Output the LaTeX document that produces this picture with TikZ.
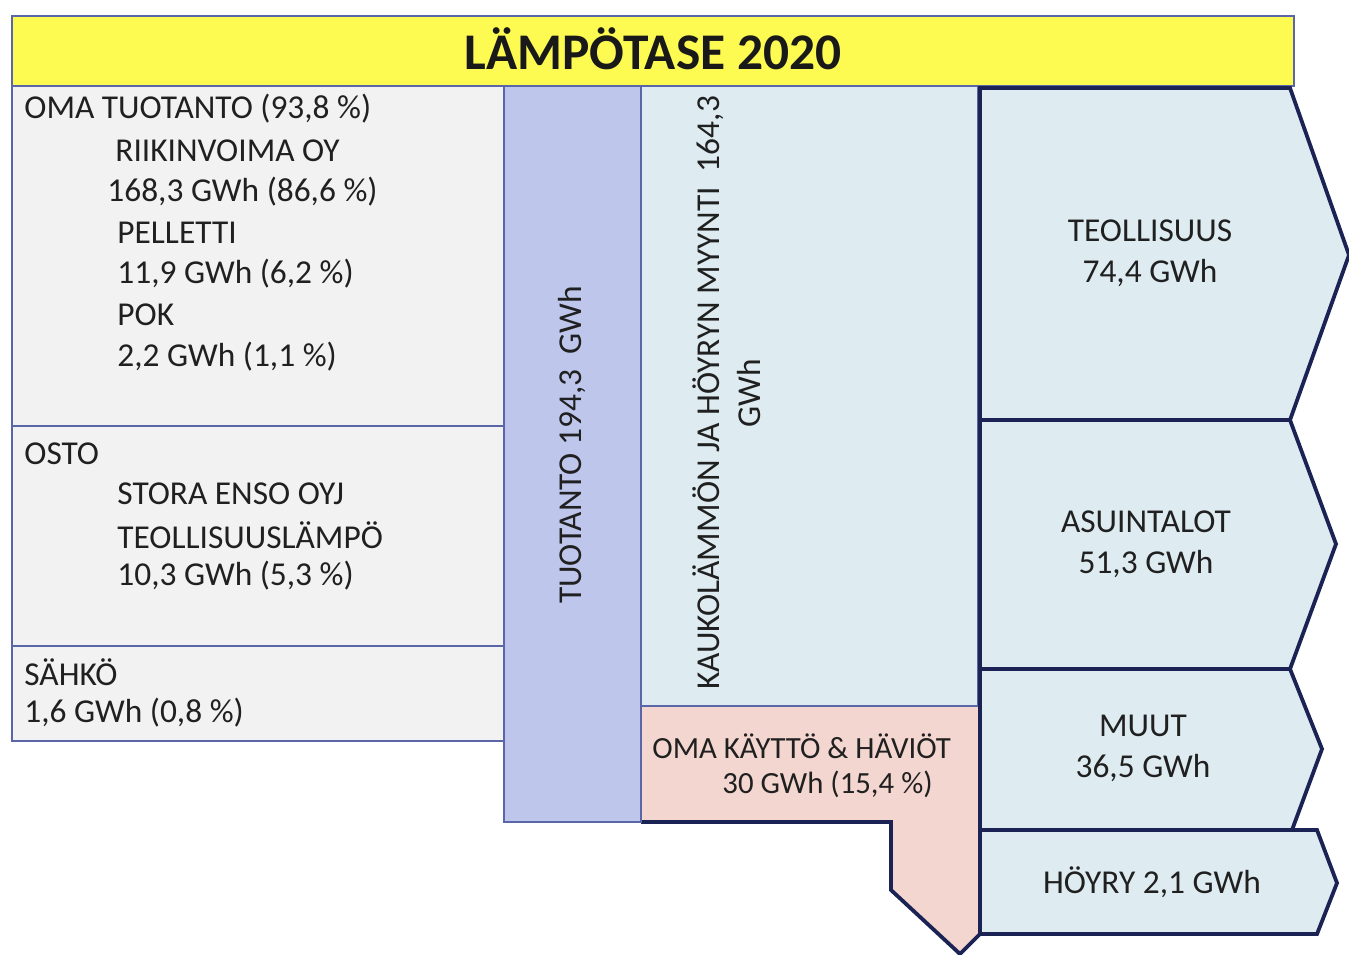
\documentclass[tikz,border=0pt]{standalone}
\usepackage{fontspec}
\setmainfont{Carlito}
\definecolor{ttl}{HTML}{FDFB52}
\definecolor{thinb}{HTML}{5A66A8}
\definecolor{navy}{HTML}{1B2354}
\definecolor{grayf}{HTML}{F2F2F2}
\definecolor{tuof}{HTML}{BEC6EC}
\definecolor{lblue}{HTML}{DEECF1}
\definecolor{pinkf}{HTML}{F4D6D0}
\definecolor{txt}{HTML}{202020}
\tikzset{
  thinbox/.style={draw=thinb,line width=0.7pt},
  thickbox/.style={draw=navy,line width=1.9pt,line join=miter},
  lbl/.style={text=txt,font=\fontsize{16.7}{20}\selectfont,inner sep=0pt,anchor=west},
  clbl/.style={text=txt,font=\fontsize{16.7}{20.5}\selectfont,inner sep=0pt,align=center},
}
\begin{document}
\begin{tikzpicture}[x=0.5pt,y=-0.5pt]
\useasboundingbox (0,0) rectangle (1349,954);
% title
\draw[thinbox,fill=ttl] (12,16) rectangle (1294,86);
\node[text=black!90,font=\fontsize{25.7}{28}\selectfont\bfseries,inner sep=0pt] (title) at (653,49) {LÄMPÖTASE 2020};
% left boxes
\draw[thinbox,fill=grayf] (12,86) rectangle (504,426);
\draw[thinbox,fill=grayf] (12,426) rectangle (504,646);
\draw[thinbox,fill=grayf] (12,646) rectangle (504,741);
\node[lbl] (t1) at (24,109) {OMA TUOTANTO (93,8 \%)};
\node[lbl] (t2) at (115,151) {RIIKINVOIMA OY};
\node[lbl] (t3) at (107,192) {168,3 GWh (86,6 \%)};
\node[lbl] (t4) at (117,233) {PELLETTI};
\node[lbl] (t5) at (117,274) {11,9 GWh (6,2 \%)};
\node[lbl] (t6) at (117,315) {POK};
\node[lbl] (t7) at (117,357) {2,2 GWh (1,1 \%)};
\node[lbl] (o1) at (24,454) {OSTO};
\node[lbl] (o2) at (117,494) {STORA ENSO OYJ};
\node[lbl] (o3) at (117,535) {TEOLLISUUSLÄMPÖ};
\node[lbl] (o4) at (117,576) {10,3 GWh (5,3 \%)};
\node[lbl] (s1) at (24,672) {SÄHKÖ};
\node[lbl] (s2) at (24,713) {1,6 GWh (0,8 \%)};
% pink shape
\fill[pinkf] (641,706) -- (978,706) -- (978,936) -- (960,954) -- (891,890) -- (891,822) -- (641,822) -- cycle;
\draw[thickbox] (641,822) -- (891,822) -- (891,890) -- (960,954) -- (980,934);
\node[lbl,font=\fontsize{15.4}{18}\selectfont] (ok1) at (652,746) {OMA KÄYTTÖ \& HÄVIÖT};
\node[lbl,font=\fontsize{15.4}{18}\selectfont] (ok2) at (722,784) {30 GWh (15,4 \%)};
% tuotanto
\draw[thinbox,fill=tuof] (504,86) rectangle (641,822);
\node[clbl,rotate=90] (tuo) at (572,445) {TUOTANTO 194,3~~GWh};
% kaukolampo
\draw[thinbox,fill=lblue] (641,86) rectangle (978,706);
\node[clbl,rotate=90] (kau) at (727,393) {KAUKOLÄMMÖN JA HÖYRYN MYYNTI~~164,3\\GWh};
% right chevrons
\draw[thickbox,fill=lblue] (980,88) -- (1290,88) -- (1349,255) -- (1290,420) -- (980,420) -- cycle;
\draw[thickbox,fill=lblue] (980,420) -- (1290,420) -- (1336,544) -- (1290,669) -- (980,669) -- cycle;
\draw[thickbox,fill=lblue] (980,669) -- (1290,669) -- (1322,749) -- (1292,830) -- (980,830) -- cycle;
\draw[thickbox,fill=lblue] (980,830) -- (1317,830) -- (1337,883) -- (1317,934) -- (980,934) -- cycle;
\node[clbl] (teo) at (1150,253) {TEOLLISUUS\\74,4 GWh};
\node[clbl] (asu) at (1146,544) {ASUINTALOT\\51,3 GWh};
\node[clbl] (muu) at (1143,748) {MUUT\\36,5 GWh};
\node[clbl] (hoy) at (1152,882) {HÖYRY 2,1 GWh};
\end{tikzpicture}
\end{document}
